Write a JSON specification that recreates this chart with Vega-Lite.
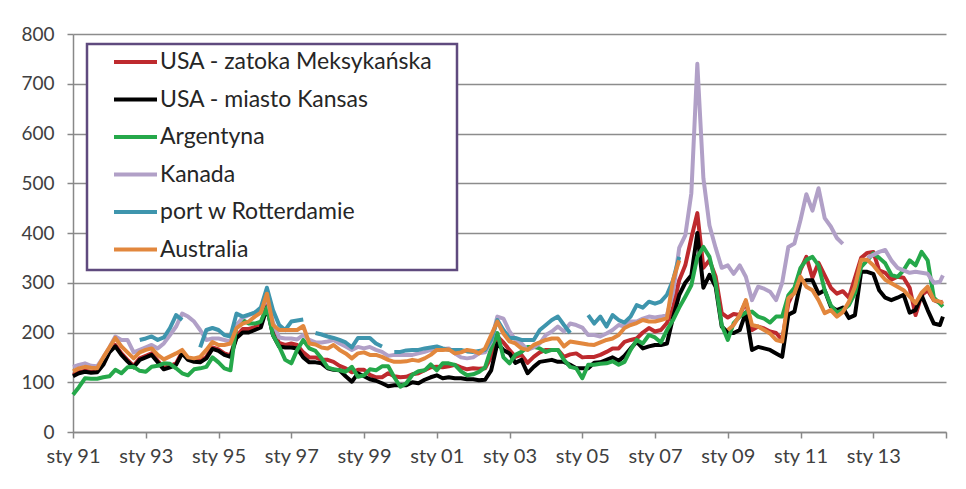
{
"$schema":"https://vega.github.io/schema/vega-lite/v6.json",
"width":873,"height":398,"autosize":"none",
"padding":{"left":73,"top":34,"right":20,"bottom":57},
"background":"white",
"config":{"view":{"stroke":null},"font":"Lato"},
"data":{"values":[
{"t":"1991-01","G":115,"K":112,"A":75,"C":131,"R":null,"U":122},
{"t":"1991-03","G":120,"K":118,"A":90,"C":135,"R":null,"U":128},
{"t":"1991-05","G":123,"K":121,"A":108,"C":138,"R":null,"U":131},
{"t":"1991-07","G":121,"K":119,"A":107,"C":133,"R":null,"U":129},
{"t":"1991-09","G":122,"K":120,"A":107,"C":132,"R":null,"U":128},
{"t":"1991-11","G":137,"K":135,"A":110,"C":150,"R":null,"U":150},
{"t":"1992-01","G":162,"K":160,"A":112,"C":170,"R":null,"U":170},
{"t":"1992-03","G":175,"K":172,"A":125,"C":192,"R":null,"U":189},
{"t":"1992-05","G":158,"K":155,"A":118,"C":185,"R":null,"U":172},
{"t":"1992-07","G":145,"K":142,"A":130,"C":185,"R":null,"U":160},
{"t":"1992-09","G":133,"K":130,"A":131,"C":160,"R":null,"U":148},
{"t":"1992-11","G":148,"K":145,"A":123,"C":165,"R":185,"U":160},
{"t":"1993-01","G":153,"K":150,"A":121,"C":170,"R":188,"U":165},
{"t":"1993-03","G":158,"K":155,"A":131,"C":175,"R":192,"U":168},
{"t":"1993-05","G":143,"K":140,"A":133,"C":168,"R":185,"U":155},
{"t":"1993-07","G":129,"K":126,"A":138,"C":178,"R":190,"U":146},
{"t":"1993-09","G":133,"K":130,"A":137,"C":195,"R":209,"U":152},
{"t":"1993-11","G":138,"K":135,"A":128,"C":212,"R":235,"U":158},
{"t":"1994-01","G":161,"K":158,"A":118,"C":238,"R":225,"U":165},
{"t":"1994-03","G":148,"K":145,"A":114,"C":232,"R":null,"U":150},
{"t":"1994-05","G":144,"K":141,"A":126,"C":222,"R":null,"U":148},
{"t":"1994-07","G":143,"K":140,"A":128,"C":205,"R":170,"U":151},
{"t":"1994-09","G":151,"K":148,"A":131,"C":185,"R":205,"U":165},
{"t":"1994-11","G":170,"K":167,"A":150,"C":188,"R":209,"U":181},
{"t":"1995-01","G":166,"K":163,"A":140,"C":188,"R":205,"U":175},
{"t":"1995-03","G":158,"K":155,"A":128,"C":185,"R":195,"U":175},
{"t":"1995-05","G":154,"K":151,"A":124,"C":182,"R":192,"U":178},
{"t":"1995-07","G":193,"K":189,"A":215,"C":215,"R":238,"U":209},
{"t":"1995-09","G":207,"K":200,"A":225,"C":230,"R":232,"U":218},
{"t":"1995-11","G":207,"K":200,"A":218,"C":235,"R":236,"U":222},
{"t":"1996-01","G":211,"K":205,"A":218,"C":240,"R":240,"U":232},
{"t":"1996-03","G":218,"K":210,"A":222,"C":245,"R":250,"U":240},
{"t":"1996-05","G":256,"K":250,"A":250,"C":270,"R":290,"U":278},
{"t":"1996-07","G":203,"K":195,"A":195,"C":220,"R":245,"U":215},
{"t":"1996-09","G":179,"K":172,"A":172,"C":190,"R":215,"U":205},
{"t":"1996-11","G":175,"K":170,"A":145,"C":188,"R":205,"U":205},
{"t":"1997-01","G":178,"K":170,"A":138,"C":188,"R":222,"U":205},
{"t":"1997-03","G":175,"K":168,"A":165,"C":186,"R":224,"U":205},
{"t":"1997-05","G":160,"K":150,"A":185,"C":195,"R":226,"U":213},
{"t":"1997-07","G":150,"K":140,"A":168,"C":185,"R":null,"U":178},
{"t":"1997-09","G":150,"K":140,"A":163,"C":180,"R":199,"U":176},
{"t":"1997-11","G":145,"K":138,"A":148,"C":180,"R":196,"U":170},
{"t":"1998-01","G":145,"K":128,"A":130,"C":182,"R":192,"U":168},
{"t":"1998-03","G":141,"K":125,"A":126,"C":185,"R":189,"U":175},
{"t":"1998-05","G":133,"K":124,"A":124,"C":178,"R":185,"U":165},
{"t":"1998-07","G":128,"K":112,"A":121,"C":172,"R":180,"U":158},
{"t":"1998-09","G":120,"K":101,"A":131,"C":165,"R":170,"U":148},
{"t":"1998-11","G":125,"K":118,"A":111,"C":171,"R":189,"U":158},
{"t":"1999-01","G":125,"K":112,"A":114,"C":168,"R":189,"U":160},
{"t":"1999-03","G":115,"K":106,"A":126,"C":171,"R":189,"U":155},
{"t":"1999-05","G":110,"K":103,"A":124,"C":165,"R":178,"U":155},
{"t":"1999-07","G":110,"K":98,"A":132,"C":161,"R":172,"U":151},
{"t":"1999-09","G":118,"K":92,"A":132,"C":153,"R":null,"U":145},
{"t":"1999-11","G":112,"K":94,"A":110,"C":155,"R":161,"U":141},
{"t":"2000-01","G":110,"K":94,"A":91,"C":155,"R":161,"U":141},
{"t":"2000-03","G":111,"K":94,"A":98,"C":155,"R":164,"U":142},
{"t":"2000-05","G":116,"K":100,"A":115,"C":155,"R":165,"U":145},
{"t":"2000-07","G":118,"K":98,"A":122,"C":158,"R":165,"U":143},
{"t":"2000-09","G":124,"K":105,"A":124,"C":161,"R":168,"U":148},
{"t":"2000-11","G":130,"K":110,"A":136,"C":165,"R":170,"U":155},
{"t":"2001-01","G":131,"K":114,"A":124,"C":165,"R":172,"U":165},
{"t":"2001-03","G":130,"K":108,"A":138,"C":167,"R":168,"U":165},
{"t":"2001-05","G":132,"K":110,"A":138,"C":168,"R":165,"U":166},
{"t":"2001-07","G":135,"K":108,"A":135,"C":158,"R":165,"U":158},
{"t":"2001-09","G":130,"K":108,"A":122,"C":150,"R":165,"U":160},
{"t":"2001-11","G":126,"K":106,"A":114,"C":148,"R":162,"U":165},
{"t":"2002-01","G":128,"K":106,"A":116,"C":150,"R":161,"U":163},
{"t":"2002-03","G":127,"K":104,"A":121,"C":158,"R":163,"U":158},
{"t":"2002-05","G":128,"K":105,"A":130,"C":160,"R":165,"U":168},
{"t":"2002-07","G":151,"K":124,"A":168,"C":182,"R":185,"U":195},
{"t":"2002-09","G":192,"K":178,"A":199,"C":232,"R":225,"U":222},
{"t":"2002-11","G":180,"K":165,"A":150,"C":228,"R":205,"U":198},
{"t":"2003-01","G":165,"K":158,"A":138,"C":202,"R":189,"U":182},
{"t":"2003-03","G":151,"K":139,"A":155,"C":185,"R":189,"U":178},
{"t":"2003-05","G":155,"K":145,"A":161,"C":178,"R":185,"U":168},
{"t":"2003-07","G":139,"K":118,"A":171,"C":165,"R":185,"U":165},
{"t":"2003-09","G":151,"K":131,"A":171,"C":170,"R":185,"U":175},
{"t":"2003-11","G":160,"K":141,"A":168,"C":178,"R":205,"U":180},
{"t":"2004-01","G":165,"K":143,"A":161,"C":195,"R":215,"U":185},
{"t":"2004-03","G":165,"K":145,"A":165,"C":202,"R":225,"U":188},
{"t":"2004-05","G":165,"K":141,"A":165,"C":212,"R":232,"U":188},
{"t":"2004-07","G":151,"K":141,"A":145,"C":202,"R":215,"U":172},
{"t":"2004-09","G":156,"K":135,"A":131,"C":218,"R":199,"U":182},
{"t":"2004-11","G":158,"K":128,"A":128,"C":215,"R":null,"U":180},
{"t":"2005-01","G":150,"K":128,"A":108,"C":210,"R":null,"U":178},
{"t":"2005-03","G":151,"K":128,"A":135,"C":195,"R":235,"U":176},
{"t":"2005-05","G":151,"K":139,"A":135,"C":195,"R":218,"U":175},
{"t":"2005-07","G":155,"K":140,"A":137,"C":192,"R":232,"U":180},
{"t":"2005-09","G":161,"K":145,"A":138,"C":198,"R":212,"U":185},
{"t":"2005-11","G":168,"K":150,"A":142,"C":205,"R":235,"U":188},
{"t":"2006-01","G":168,"K":143,"A":135,"C":215,"R":225,"U":195},
{"t":"2006-03","G":181,"K":153,"A":141,"C":212,"R":220,"U":209},
{"t":"2006-05","G":185,"K":168,"A":165,"C":222,"R":232,"U":215},
{"t":"2006-07","G":188,"K":181,"A":185,"C":222,"R":255,"U":219},
{"t":"2006-09","G":200,"K":168,"A":178,"C":228,"R":250,"U":225},
{"t":"2006-11","G":209,"K":172,"A":195,"C":232,"R":262,"U":222},
{"t":"2007-01","G":202,"K":175,"A":190,"C":230,"R":258,"U":222},
{"t":"2007-03","G":205,"K":175,"A":180,"C":232,"R":262,"U":225},
{"t":"2007-05","G":219,"K":178,"A":205,"C":235,"R":276,"U":229},
{"t":"2007-07","G":250,"K":230,"A":225,"C":280,"R":305,"U":305},
{"t":"2007-09","G":305,"K":275,"A":250,"C":370,"R":352,"U":345},
{"t":"2007-11","G":335,"K":300,"A":272,"C":395,"R":null,"U":null},
{"t":"2008-01","G":390,"K":315,"A":295,"C":480,"R":null,"U":null},
{"t":"2008-03","G":440,"K":400,"A":352,"C":740,"R":null,"U":null},
{"t":"2008-05","G":330,"K":290,"A":372,"C":510,"R":null,"U":null},
{"t":"2008-07","G":345,"K":316,"A":352,"C":415,"R":null,"U":null},
{"t":"2008-09","G":312,"K":292,"A":299,"C":370,"R":null,"U":null},
{"t":"2008-11","G":239,"K":212,"A":215,"C":330,"R":null,"U":null},
{"t":"2009-01","G":230,"K":200,"A":185,"C":335,"R":null,"U":205},
{"t":"2009-03","G":237,"K":199,"A":219,"C":318,"R":null,"U":215},
{"t":"2009-05","G":235,"K":205,"A":232,"C":335,"R":null,"U":235},
{"t":"2009-07","G":262,"K":240,"A":240,"C":312,"R":null,"U":265},
{"t":"2009-09","G":205,"K":165,"A":242,"C":265,"R":null,"U":215},
{"t":"2009-11","G":212,"K":171,"A":232,"C":292,"R":null,"U":212},
{"t":"2010-01","G":208,"K":168,"A":228,"C":288,"R":null,"U":205},
{"t":"2010-03","G":202,"K":165,"A":220,"C":282,"R":null,"U":198},
{"t":"2010-05","G":199,"K":158,"A":232,"C":265,"R":null,"U":185},
{"t":"2010-07","G":185,"K":151,"A":232,"C":300,"R":null,"U":182},
{"t":"2010-09","G":259,"K":236,"A":275,"C":372,"R":null,"U":269},
{"t":"2010-11","G":285,"K":242,"A":290,"C":379,"R":null,"U":279},
{"t":"2011-01","G":326,"K":300,"A":330,"C":426,"R":null,"U":312},
{"t":"2011-03","G":352,"K":305,"A":346,"C":478,"R":null,"U":292},
{"t":"2011-05","G":310,"K":305,"A":352,"C":445,"R":null,"U":285},
{"t":"2011-07","G":340,"K":278,"A":335,"C":490,"R":null,"U":265},
{"t":"2011-09","G":315,"K":285,"A":285,"C":430,"R":null,"U":239},
{"t":"2011-11","G":290,"K":252,"A":255,"C":413,"R":null,"U":245},
{"t":"2012-01","G":278,"K":245,"A":240,"C":390,"R":null,"U":232},
{"t":"2012-03","G":283,"K":250,"A":245,"C":378,"R":null,"U":241},
{"t":"2012-05","G":270,"K":229,"A":255,"C":null,"R":null,"U":262},
{"t":"2012-07","G":310,"K":235,"A":279,"C":null,"R":null,"U":292},
{"t":"2012-09","G":350,"K":322,"A":332,"C":null,"R":null,"U":346},
{"t":"2012-11","G":360,"K":322,"A":345,"C":350,"R":null,"U":346},
{"t":"2013-01","G":362,"K":318,"A":359,"C":356,"R":null,"U":335},
{"t":"2013-03","G":325,"K":285,"A":350,"C":362,"R":null,"U":320},
{"t":"2013-05","G":320,"K":270,"A":339,"C":366,"R":null,"U":306},
{"t":"2013-07","G":306,"K":265,"A":316,"C":345,"R":null,"U":299},
{"t":"2013-09","G":312,"K":270,"A":312,"C":330,"R":null,"U":292},
{"t":"2013-11","G":310,"K":276,"A":325,"C":325,"R":null,"U":285},
{"t":"2014-01","G":290,"K":240,"A":345,"C":320,"R":null,"U":272},
{"t":"2014-03","G":235,"K":245,"A":335,"C":322,"R":null,"U":259},
{"t":"2014-05","G":275,"K":275,"A":362,"C":320,"R":null,"U":280},
{"t":"2014-07","G":285,"K":245,"A":345,"C":318,"R":null,"U":292},
{"t":"2014-09","G":265,"K":218,"A":270,"C":300,"R":null,"U":265},
{"t":"2014-11","G":260,"K":215,"A":258,"C":302,"R":null,"U":262},
{"t":"2014-12","G":262,"K":232,"A":252,"C":315,"R":null,"U":258}
]},
"transform":[{"fold":["G","K","A","C","R","U"],"as":["s","v"]}],
"encoding":{
"x":{"field":"t","type":"temporal","title":null,
 "scale":{"type":"utc","domain":[{"year":1991,"utc":true},{"year":2015,"utc":true}]},
 "axis":{"values":[{"year":1991,"utc":true},{"year":1993,"utc":true},{"year":1995,"utc":true},{"year":1997,"utc":true},{"year":1999,"utc":true},{"year":2001,"utc":true},{"year":2003,"utc":true},{"year":2005,"utc":true},{"year":2007,"utc":true},{"year":2009,"utc":true},{"year":2011,"utc":true},{"year":2013,"utc":true},{"year":2015,"utc":true}],
  "labelExpr":"utcyear(datum.value) == 2015 ? '' : 'sty ' + utcFormat(datum.value, '%y')",
  "grid":false,"tickSize":6,"tickWidth":1.5,"tickColor":"#888888","domainColor":"#888888","domainWidth":1.5,
  "labelFontSize":20,"labelColor":"#404040","labelPadding":8,"labelFlush":false,"labelOverlap":false}},
"y":{"field":"v","type":"quantitative","title":null,
 "scale":{"domain":[0,800],"nice":false},
 "axis":{"values":[0,100,200,300,400,500,600,700,800],"grid":true,"gridColor":"#8C8C8C","gridWidth":1.5,
  "tickSize":6,"tickWidth":1.5,"tickColor":"#888888","domainColor":"#888888","domainWidth":1.5,
  "labelFontSize":19,"labelColor":"#404040","labelPadding":13}},
"color":{"field":"s","type":"nominal",
 "scale":{"domain":["G","K","A","C","R","U"],"range":["#BE2A2E","#000000","#25A84A","#B1A0C7","#3E95AD","#E2873D"]},
 "legend":{"orient":"none","legendX":14,"legendY":10,"title":".","titleOrient":"right","titlePadding":14,"titleFontSize":10,"titleColor":"rgba(0,0,0,0)",
  "symbolType":"stroke","symbolSize":1849,"symbolStrokeWidth":4,"symbolOffset":17,
  "labelFontSize":23,"labelFont":"Lato","labelColor":"#262626","labelLimit":600,"labelOffset":1,
  "padding":8,"rowPadding":14.5,"clipHeight":20,"strokeColor":"#5F4A7E","fillColor":"white",
  "labelExpr":"datum.label == 'G' ? 'USA - zatoka Meksykańska' : datum.label == 'K' ? 'USA - miasto Kansas' : datum.label == 'A' ? 'Argentyna' : datum.label == 'C' ? 'Kanada' : datum.label == 'R' ? 'port w Rotterdamie' : 'Australia'",
  "encode":{"legend":{"update":{"strokeWidth":{"value":2.5}}}}}}
},
"layer":[
{"transform":[{"filter":"datum.s === 'G'"}],"mark":{"type":"line","strokeWidth":4,"strokeJoin":"round","invalid":"break-paths-filter-domains"}},
{"transform":[{"filter":"datum.s === 'K'"}],"mark":{"type":"line","strokeWidth":4,"strokeJoin":"round","invalid":"break-paths-filter-domains"}},
{"transform":[{"filter":"datum.s === 'A'"}],"mark":{"type":"line","strokeWidth":4,"strokeJoin":"round","invalid":"break-paths-filter-domains"}},
{"transform":[{"filter":"datum.s === 'C'"}],"mark":{"type":"line","strokeWidth":4,"strokeJoin":"round","invalid":"break-paths-filter-domains"}},
{"transform":[{"filter":"datum.s === 'R'"}],"mark":{"type":"line","strokeWidth":4,"strokeJoin":"round","invalid":"break-paths-filter-domains"}},
{"transform":[{"filter":"datum.s === 'U'"}],"mark":{"type":"line","strokeWidth":4,"strokeJoin":"round","invalid":"break-paths-filter-domains"}}
]
}
